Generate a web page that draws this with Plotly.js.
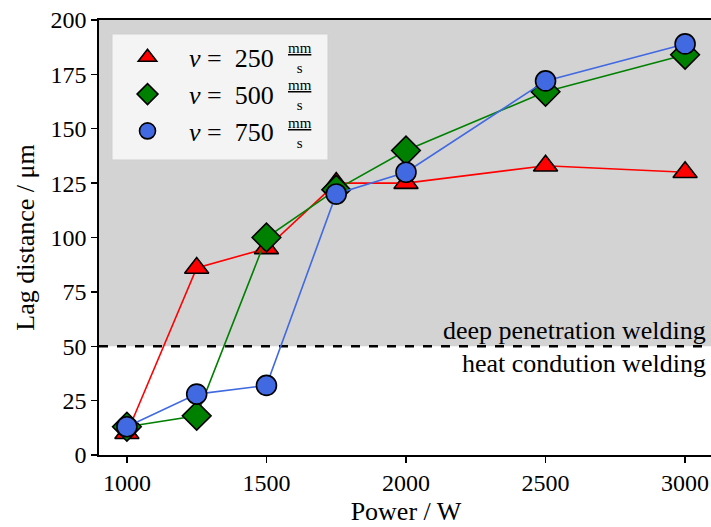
<!DOCTYPE html>
<html>
<head>
<meta charset="utf-8">
<script src="https://cdn.plot.ly/plotly-3.0.1.min.js"></script>
<style>
html,body{margin:0;padding:0;overflow:hidden;background:#fff;}
#chart{width:714px;height:527px;}
</style>
</head>
<body>
<div id="chart"></div>
<script>
const power = [1000, 1250, 1500, 1750, 2000, 2500, 3000];
const lag250 = [10, 86, 95, 125, 125, 133, 130];
const lag500 = [13, 18, 100, 122, 140, 167, 184];
const lag750 = [13, 28, 32, 120, 130, 172, 189];
const speeds = ["250", "500", "750"];
const xTicks = [1000, 1500, 2000, 2500, 3000];
const yTicks = [0, 25, 50, 75, 100, 125, 150, 175, 200];
const regionLabels = ["deep penetration welding", "heat condution welding"];
const threshold = 50;

const FONT = "Liberation Serif, serif";
const NB = "\u00a0";

function lineTrace(y, color) {
  return {x: power, y: y, type: "scatter", mode: "lines", showlegend: false,
    hoverinfo: "skip", line: {color: color, width: 1.6}};
}
function markTrace(y, color, symbol, size, speed, group) {
  return {x: power, y: y, type: "scatter", mode: "markers", legendgroup: group,
    name: NB + "<i>v</i>" + NB + "=" + NB + NB + speed,
    marker: {color: color, symbol: symbol, size: size, line: {color: "#000", width: 1.6}}};
}

const data = [
  lineTrace(lag250, "#ff0000"),
  markTrace(lag250, "#ff0000", "triangle-up", 21, speeds[0], "a"),
  lineTrace(lag500, "#008000"),
  markTrace(lag500, "#008000", "diamond", 22, speeds[1], "b"),
  lineTrace(lag750, "#4169e1"),
  markTrace(lag750, "#4169e1", "circle", 20, speeds[2], "c")
];

// pixel -> paper helpers (plot area: x 99..713, y 20..455)
function px(p) { return (p - 99) / 614; }
function py(p) { return 1 - (p - 20) / 435; }
const rowCenters = [58, 95.5, 133];
const annotations = [];
rowCenters.forEach(function (c) {
  annotations.push({xref: "paper", yref: "paper", x: px(300), y: py(c), xanchor: "center", yanchor: "middle",
    text: "<u>mm</u><br>s", showarrow: false, font: {family: FONT, size: 15, color: "#000"}});
});
annotations.push({xref: "paper", yref: "y", x: 0.992, y: threshold, xanchor: "right", yanchor: "bottom",
  text: regionLabels[0], showarrow: false, font: {family: FONT, size: 26, color: "#000"}, yshift: -1});
annotations.push({xref: "paper", yref: "y", x: 0.992, y: threshold, xanchor: "right", yanchor: "top",
  text: regionLabels[1], showarrow: false, font: {family: FONT, size: 26, color: "#000"}, yshift: -1});

const layout = {
  width: 714, height: 527,
  margin: {l: 99, r: 1, t: 20, b: 72},
  paper_bgcolor: "#fff", plot_bgcolor: "#fff",
  font: {family: FONT, size: 24, color: "#000"},
  showlegend: true,
  legend: {
    x: 0.022, y: 0.968, xanchor: "left", yanchor: "top",
    bgcolor: "rgba(0,0,0,0)", borderwidth: 0,
    font: {family: FONT, size: 26, color: "#000"},
    traceorder: "grouped", tracegroupgap: 0, itemwidth: 60
  },
  xaxis: {
    range: [900, 3100], tickvals: xTicks, ticks: "outside", ticklen: 6, tickwidth: 1.4,
    tickcolor: "#000", showline: true, linecolor: "#000", linewidth: 1.6, mirror: true,
    showgrid: false, zeroline: false, tickfont: {family: FONT, size: 24},
    title: {text: "Power / W", font: {family: FONT, size: 26}, standoff: 6}
  },
  yaxis: {
    range: [0, 200], tickvals: yTicks, ticks: "outside", ticklen: 6, tickwidth: 1.4,
    tickcolor: "#000", showline: true, linecolor: "#000", linewidth: 1.6, mirror: true,
    showgrid: false, zeroline: false, tickfont: {family: FONT, size: 24},
    title: {text: "Lag distance / μm", font: {family: FONT, size: 26}, standoff: 8}
  },
  shapes: [
    {type: "rect", xref: "paper", yref: "y", x0: 0, x1: 1, y0: threshold, y1: 200,
      fillcolor: "#d3d3d3", line: {width: 0}, layer: "below"},
    {type: "line", xref: "paper", yref: "y", x0: 0, x1: 1, y0: threshold, y1: threshold,
      line: {color: "#000", width: 2.4, dash: "dash"}, layer: "below"},
    {type: "rect", xref: "paper", yref: "paper", x0: px(112), x1: px(328), y0: py(160), y1: py(34),
      fillcolor: "rgba(246,246,246,0.92)", line: {color: "#cfcfcf", width: 1}, layer: "above"}
  ],
  annotations: annotations
};

Plotly.newPlot("chart", data, layout, {displayModeBar: false, staticPlot: true});
</script>
</body>
</html>
